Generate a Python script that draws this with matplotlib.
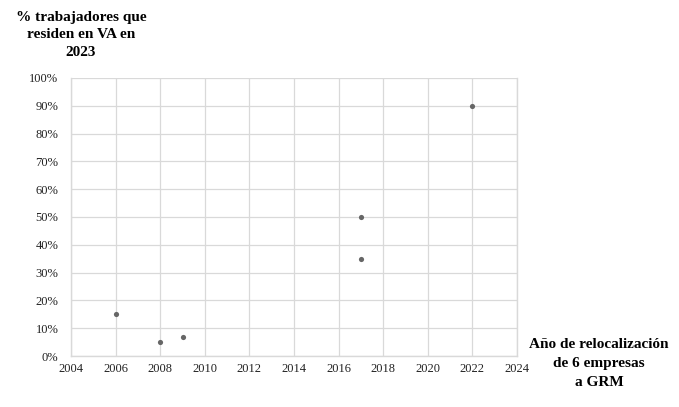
import matplotlib.pyplot as plt
import numpy as np

years = [2006, 2008, 2009, 2017, 2017, 2022]
pct = [0.15, 0.05, 0.07, 0.50, 0.35, 0.90]
x_ticks = list(range(2004, 2025, 2))
y_ticks = np.arange(0, 1.01, 0.1)

plt.rcParams["font.family"] = ["Liberation Serif", "DejaVu Serif"]

fig = plt.figure(figsize=(6.79, 4.07), dpi=100)
ax = fig.add_axes([0.1046, 0.1253, 0.6568, 0.6831])

ax.scatter(years, pct, s=14, color="#666666", zorder=3, linewidths=0)
ax.set_xlim(2004, 2024)
ax.set_ylim(0, 1.0)
ax.set_xticks(x_ticks)
ax.set_yticks(y_ticks)
ax.set_yticklabels([f"{int(round(v * 100))}%" for v in y_ticks])
ax.grid(True, color="#d9d9d9", lw=0.9)
ax.set_axisbelow(True)
ax.spines["top"].set_visible(False)
for side in ["left", "right", "bottom"]:
    ax.spines[side].set_color("#d9d9d9")
    ax.spines[side].set_linewidth(1.0)
ax.tick_params(length=0, labelsize=9, colors="#222222")
ax.tick_params(axis="y", pad=9)
ax.tick_params(axis="x", pad=5)

fig.text(81 / 679, 1 - 35 / 407, "% trabajadores que\nresiden en VA en\n2023",
         ha="center", va="center", fontsize=11, fontweight="bold", linespacing=1.45)
fig.text(599 / 679, 1 - 363 / 407, "Año de relocalización\nde 6 empresas\na GRM",
         ha="center", va="center", fontsize=11, fontweight="bold", linespacing=1.6)

fig.savefig("out.png", dpi=100)
